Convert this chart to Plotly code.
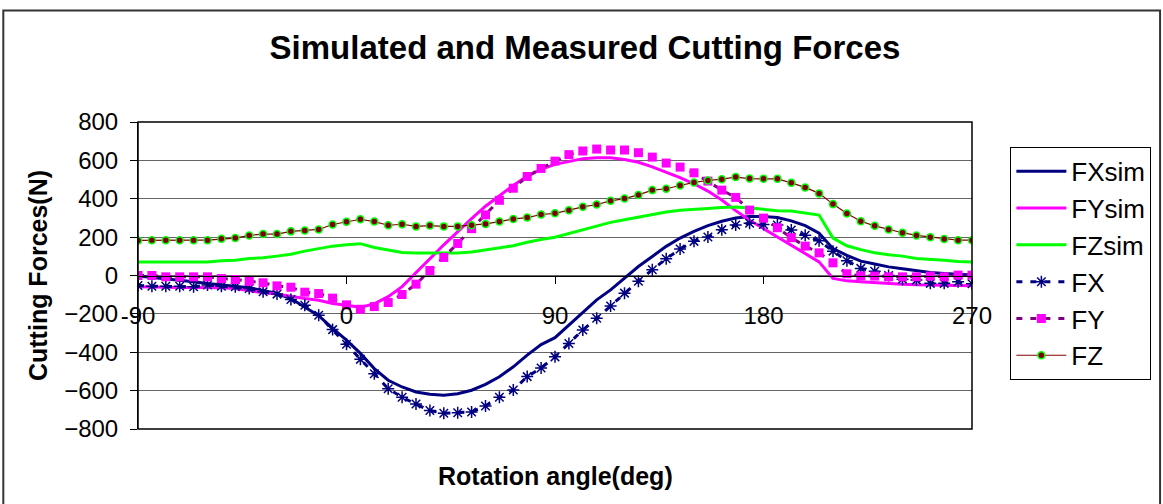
import plotly.graph_objects as go

angles = [-90, -84, -78, -72, -66, -60, -54, -48, -42, -36, -30, -24, -18, -12, -6,
          0, 6, 12, 18, 24, 30, 36, 42, 48, 54, 60, 66, 72, 78, 84,
          90, 96, 102, 108, 114, 120, 126, 132, 138, 144, 150, 156, 162, 168, 174,
          180, 186, 192, 198, 204, 210, 216, 222, 228, 234, 240, 246, 252, 258, 264, 270]

fx_sim = [-3, -10, -16, -24, -33, -42, -50, -57, -64, -78, -94, -120, -163, -209, -276,
          -337, -406, -485, -546, -581, -607, -619, -624, -616, -598, -567, -528, -476, -415, -360,
          -324, -258, -188, -127, -75, -14, 47, 99, 152, 195, 230, 260, 283, 300, 308,
          308, 302, 285, 260, 220, 140, 105, 75, 60, 45, 35, 24, 16, 10, 5, 2]

fy_sim = [-59, -61, -63, -63, -63, -63, -64, -68, -80, -90, -97, -110, -120, -129, -146,
          -155, -165, -148, -110, -58, 12, 87, 160, 230, 296, 361, 417, 469, 518, 553,
          579, 596, 609, 614, 614, 605, 590, 566, 540, 510, 478, 440, 393, 338, 288,
          245, 202, 158, 115, 71, -15, -28, -33, -38, -42, -45, -48, -50, -52, -53, -53]

fz_sim = [71, 71, 71, 71, 71, 71, 77, 80, 89, 92, 101, 111, 127, 141, 153,
          160, 166, 146, 131, 120, 117, 117, 117, 117, 122, 134, 143, 155, 173, 188,
          199, 218, 235, 256, 277, 291, 305, 319, 331, 340, 343, 349, 354, 357, 352,
          344, 338, 336, 327, 315, 195, 155, 135, 118, 108, 101, 89, 85, 80, 73, 71]

fx_meas = [-52, -56, -56, -56, -59, -50, -56, -59, -68, -85, -97, -125, -155, -207, -282,
           -358, -437, -512, -590, -635, -670, -704, -718, -715, -711, -680, -635, -597, -527, -482,
           -424, -354, -284, -223, -159, -92, -30, 30, 87, 138, 178, 201, 239, 263, 272,
           266, 263, 237, 210, 181, 127, 77, 37, 22, 0, -20, -24, -41, -41, -33, -43]

fy_meas = [0, 0, -7, -7, -7, -7, -16, -21, -30, -38, -54, -61, -87, -94, -118,
           -153, -176, -162, -141, -99, -45, 26, 94, 167, 244, 316, 392, 455, 516, 558,
           596, 630, 649, 659, 654, 654, 640, 617, 586, 565, 535, 492, 445, 407, 341,
           299, 249, 197, 153, 118, 66, 9, -2, -3, -7, -7, -7, -3, -7, 2, 2]

fz_meas = [183, 184, 184, 184, 184, 184, 191, 195, 209, 216, 216, 230, 235, 240, 266,
           280, 293, 281, 262, 267, 256, 260, 256, 256, 262, 269, 281, 295, 302, 318,
           324, 340, 358, 370, 389, 401, 420, 445, 452, 469, 485, 495, 502, 513, 505,
           504, 504, 483, 459, 428, 372, 323, 283, 259, 240, 223, 209, 200, 190, 184, 184]

x_ticks = [-90, 0, 90, 180, 270]
y_ticks = [-800, -600, -400, -200, 0, 200, 400, 600, 800]

FONT = "Arial, Liberation Sans, sans-serif"

fig = go.Figure()

fig.add_trace(go.Scatter(x=angles, y=fx_sim, name="FXsim", mode="lines",
                         line=dict(color="#000080", width=3), legendgroup="a"))
fig.add_trace(go.Scatter(x=angles, y=fy_sim, name="FYsim", mode="lines",
                         line=dict(color="#FF00FF", width=3), legendgroup="b"))
fig.add_trace(go.Scatter(x=angles, y=fz_sim, name="FZsim", mode="lines",
                         line=dict(color="#00FF00", width=3), legendgroup="c"))
fig.add_trace(go.Scatter(x=angles, y=fx_meas, name="FX", mode="lines+markers",
                         line=dict(color="#000080", width=3, dash="6px,8px"),
                         marker=dict(symbol="asterisk-open", size=10,
                                     line=dict(color="#000080", width=1.5)),
                         legendgroup="d"))
fig.add_trace(go.Scatter(x=angles, y=fy_meas, name="FY", mode="lines+markers",
                         line=dict(color="#800080", width=3, dash="6px,8px"),
                         marker=dict(symbol="square", size=9, color="#FF00FF",
                                     line=dict(width=0)),
                         legendgroup="e"))
fig.add_trace(go.Scatter(x=angles, y=fz_meas, name="FZ", mode="lines+markers",
                         line=dict(color="#800000", width=1.2),
                         marker=dict(symbol="circle", size=7, color="#800000",
                                     line=dict(color="#00FF00", width=1.5)),
                         legendgroup="f"))

fig.update_layout(
    width=1163, height=504,
    margin=dict(l=138, r=191, t=122, b=75),
    paper_bgcolor="white", plot_bgcolor="white",
    font=dict(family=FONT, color="black", size=24),
    title=dict(text="<b>Simulated and Measured Cutting Forces</b>",
               x=0.503, xanchor="center", y=0.905, yanchor="middle",
               font=dict(family=FONT, size=33, color="black")),
    showlegend=True,
    legend=dict(x=1.046, y=0.919, xanchor="left", yanchor="top",
                bgcolor="white", bordercolor="black", borderwidth=1,
                font=dict(family=FONT, size=26, color="black"),
                traceorder="grouped", tracegroupgap=0, itemwidth=50),
    xaxis=dict(range=[-90, 270], tickvals=x_ticks, ticktext=[str(v) for v in x_ticks],
               anchor="free", position=0.5, showline=True, linecolor="black", linewidth=1,
               ticks="outside", ticklen=7, tickcolor="black", showgrid=False, zeroline=False,
               tickfont=dict(family=FONT, size=24, color="black"), ticklabelstandoff=12),
    yaxis=dict(range=[-800, 800], tickvals=y_ticks, showline=True, linecolor="black",
               linewidth=1, ticks="outside", ticklen=7, tickcolor="black",
               showgrid=True, gridcolor="#666666", gridwidth=1, zeroline=False,
               tickfont=dict(family=FONT, size=24, color="black"), ticklabelstandoff=7,
               title=dict(text="<b>Cutting Forces(N)</b>", standoff=9,
                          font=dict(family=FONT, size=25, color="black"))),
)

fig.add_annotation(text="<b>Rotation angle(deg)</b>", xref="paper", yref="paper",
                   x=0.5, y=-0.153, xanchor="center", yanchor="middle", showarrow=False,
                   font=dict(family=FONT, size=25, color="black"))

# plot area frame
fig.add_shape(type="rect", xref="paper", yref="paper", x0=0, x1=1, y0=0, y1=1,
              line=dict(color="black", width=1.5), layer="above")
# chart area frame
fig.add_shape(type="rect", xref="paper", yref="paper", x0=-0.1615, x1=1.2255,
              y0=-0.27, y1=1.3635, line=dict(color="#333333", width=2), layer="above")

fig.write_html("out.html")
